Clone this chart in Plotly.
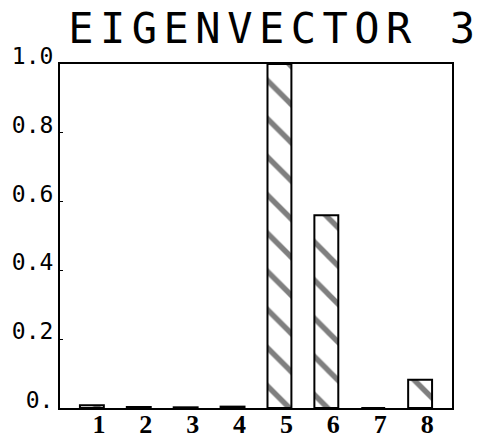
import plotly.graph_objects as go

categories = [1, 2, 3, 4, 5, 6, 7, 8]
values = [0.008, 0.003, 0.002, 0.004, 1.0, 0.56, 0.0, 0.082]
x_tick_labels = ["1", "2", "3", "4", "5", "6", "7", "8"]
y_tick_vals = [0, 0.2, 0.4, 0.6, 0.8, 1.0]
y_tick_labels = ["0.", "0.2", "0.4", "0.6", "0.8", "1.0"]
title_text = "EIGENVECTOR 3"

fig = go.Figure()
fig.add_trace(go.Bar(
    x=categories,
    y=values,
    width=0.51,
    marker=dict(
        color="white",
        line=dict(color="black", width=2),
        pattern=dict(shape="\\", fgcolor="black", bgcolor="white", size=27, solidity=0.2),
    ),
    showlegend=False,
))
# invisible trace so the label axis (x2) is rendered
fig.add_trace(go.Scatter(
    x=categories, y=values, xaxis="x2", mode="none",
    hoverinfo="skip", showlegend=False,
))

fig.update_layout(
    width=483,
    height=441,
    margin=dict(l=60, r=31, t=64, b=33, autoexpand=False),
    paper_bgcolor="white",
    plot_bgcolor="white",
    title=dict(
        text='<span style="letter-spacing:6.5px">' + title_text + '</span>',
        x=0.569, xanchor="center",
        y=0.935, yanchor="middle",
        font=dict(family="DejaVu Sans Mono", size=42, color="black"),
    ),
    xaxis=dict(
        range=[0.32, 8.68],
        showgrid=False, zeroline=False,
        showline=True, linecolor="black", linewidth=2, mirror=True,
        ticks="", showticklabels=False, automargin=False,
    ),
    xaxis2=dict(
        overlaying="x", anchor="free", position=0.006, side="bottom",
        range=[0.32, 8.68],
        tickvals=[c + 0.15 for c in categories],
        ticktext=x_tick_labels,
        showgrid=False, zeroline=False, showline=False,
        ticks="", ticklabelstandoff=0, automargin=False,
        tickfont=dict(family="Liberation Serif", size=26, color="black", weight="bold"),
    ),
    yaxis=dict(
        range=[0, 1.0],
        tickvals=y_tick_vals,
        ticktext=y_tick_labels,
        showgrid=False, zeroline=False,
        showline=True, linecolor="black", linewidth=2, mirror=True,
        ticks="inside", ticklen=3, tickcolor="black", tickwidth=1,
        ticklabelshift=-8, ticklabelstandoff=0, automargin=False,
        tickfont=dict(family="DejaVu Sans Mono", size=23, color="black"),
    ),
)

fig.write_html("out.html")
